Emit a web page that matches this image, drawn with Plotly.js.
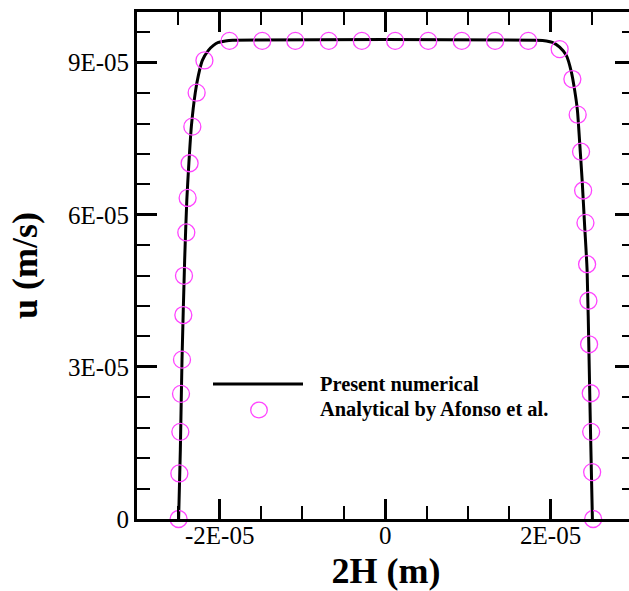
<!DOCTYPE html>
<html>
<head>
<meta charset="utf-8">
<script src="https://cdn.plot.ly/plotly-3.0.1.min.js"></script>
<style>
html,body{margin:0;padding:0;background:#fff;overflow:hidden;}
#chart{width:670px;height:591px;}
</style>
</head>
<body>
<div id="chart"></div>
<script>
// Present numerical solution (line)
const numX = [-2.497e-5, -2.476e-5, -2.456e-5, -2.424e-5, -2.398e-5, -2.373e-5, -2.343e-5, -2.295e-5, -2.258e-5, -2.210e-5, -2.137e-5, -2.076e-5, -2.016e-5, -1.931e-5, -1.846e-5,
              1.839e-5, 1.948e-5, 2.021e-5, 2.109e-5, 2.190e-5, 2.251e-5, 2.291e-5, 2.324e-5, 2.352e-5, 2.381e-5, 2.412e-5, 2.441e-5, 2.465e-5, 2.481e-5, 2.505e-5];
const numU = [0, 1.365e-5, 3.136e-5, 5.105e-5, 6.288e-5, 7.017e-5, 7.739e-5, 8.415e-5, 8.750e-5, 9.045e-5, 9.242e-5, 9.341e-5, 9.400e-5, 9.430e-5, 9.445e-5,
              9.445e-5, 9.430e-5, 9.400e-5, 9.308e-5, 9.145e-5, 8.816e-5, 8.454e-5, 8.060e-5, 7.404e-5, 6.682e-5, 5.763e-5, 4.910e-5, 3.136e-5, 1.822e-5, 0];

// Analytical by Afonso et al. (circles)
const anaX = [-2.497e-5, -2.488e-5, -2.476e-5, -2.468e-5, -2.456e-5, -2.440e-5, -2.432e-5, -2.404e-5, -2.388e-5, -2.364e-5, -2.331e-5, -2.279e-5, -2.185e-5,
              -1.882e-5, -1.486e-5, -1.086e-5, -0.682e-5, -0.282e-5, 0.121e-5, 0.521e-5, 0.926e-5, 1.329e-5, 1.730e-5,
              2.109e-5, 2.263e-5, 2.327e-5, 2.368e-5, 2.393e-5, 2.421e-5, 2.441e-5, 2.457e-5, 2.465e-5, 2.485e-5, 2.490e-5, 2.502e-5, 2.514e-5];
const anaU = [0, 0.898e-5, 1.719e-5, 2.468e-5, 3.143e-5, 4.023e-5, 4.797e-5, 5.652e-5, 6.333e-5, 7.017e-5, 7.739e-5, 8.409e-5, 9.045e-5,
              9.43e-5, 9.43e-5, 9.43e-5, 9.43e-5, 9.43e-5, 9.43e-5, 9.43e-5, 9.43e-5, 9.43e-5, 9.43e-5,
              9.268e-5, 8.677e-5, 7.975e-5, 7.245e-5, 6.479e-5, 5.841e-5, 5.026e-5, 4.305e-5, 3.446e-5, 2.480e-5, 1.719e-5, 0.925e-5, 0];

const xTickVals = [-2e-5, 0, 2e-5];
const xTickText = ['-2E-05', '0', '2E-05'];
const yTickVals = [0, 3e-5, 6e-5, 9e-5];
const yTickText = ['0', '3E-05', '6E-05', '9E-05'];

const legendNames = ['Present numerical', 'Analytical by Afonso et al.'];

const serif = 'Liberation Serif, Times New Roman, serif';
const magenta = '#ff44ff';

const traces = [
  {x: numX, y: numU, mode: 'lines', name: legendNames[0], line: {color: '#000', width: 3, shape: 'spline', smoothing: 0.6}, showlegend: false},
  {x: anaX, y: anaU, mode: 'markers', name: legendNames[1], marker: {symbol: 'circle-open', size: 17, color: magenta, line: {width: 1.3, color: magenta}}, showlegend: false, cliponaxis: false}
];

const axisCommon = {
  showline: true, linecolor: '#000', linewidth: 3, mirror: 'ticks',
  ticks: 'inside', ticklen: 20, tickwidth: 3, tickcolor: '#000',
  showgrid: false, zeroline: false,
  tickfont: {family: serif, size: 25, color: '#000'},
  tickmode: 'array'
};

// plot area: x 137..635, y 12..519
const L = 137, T = 12, W = 498, H = 507;
function px(x) { return (x - L) / W; }
function py(y) { return (T + H - y) / H; }

const layout = {
  width: 670, height: 591,
  margin: {l: L, r: 670 - L - W, t: T, b: 591 - T - H},
  paper_bgcolor: '#fff', plot_bgcolor: '#fff',
  showlegend: false,
  xaxis: Object.assign({}, axisCommon, {
    range: [-3e-5, 3.02e-5], tickvals: xTickVals, ticktext: xTickText,
    ticklabelstandoff: -8,
    minor: {tickmode: 'linear', tick0: 0, dtick: 0.5e-5, ticks: 'inside', ticklen: 13, tickwidth: 2, tickcolor: '#000'},
    title: {text: '2H (m)', font: {family: serif, size: 36, color: '#000', weight: 'bold'}, standoff: 14}
  }),
  yaxis: Object.assign({}, axisCommon, {
    range: [0, 1e-4], tickvals: yTickVals, ticktext: yTickText,
    minor: {tickmode: 'linear', tick0: 0, dtick: 0.6e-5, ticks: 'inside', ticklen: 13, tickwidth: 2, tickcolor: '#000'},
    title: {text: 'u (m/s)', font: {family: serif, size: 36, color: '#000', weight: 'bold'}, standoff: 20}
  }),
  shapes: [
    {type: 'line', xref: 'paper', yref: 'paper', x0: px(213), x1: px(303), y0: py(384), y1: py(384), line: {color: '#000', width: 3}},
    {type: 'circle', xref: 'paper', yref: 'paper', xsizemode: 'pixel', ysizemode: 'pixel',
     xanchor: px(259), yanchor: py(410), x0: -8.3, x1: 8.3, y0: -7.8, y1: 7.8, line: {color: magenta, width: 1.3}}
  ],
  annotations: [
    {xref: 'paper', yref: 'paper', x: px(318), y: py(384), xanchor: 'left', yanchor: 'middle', showarrow: false,
     text: legendNames[0], font: {family: serif, size: 20.4, color: '#000', weight: 'bold'}},
    {xref: 'paper', yref: 'paper', x: px(318), y: py(409), xanchor: 'left', yanchor: 'middle', showarrow: false,
     text: legendNames[1], font: {family: serif, size: 20.4, color: '#000', weight: 'bold'}}
  ]
};

Plotly.newPlot('chart', traces, layout, {displayModeBar: false, staticPlot: true});
</script>
</body>
</html>
